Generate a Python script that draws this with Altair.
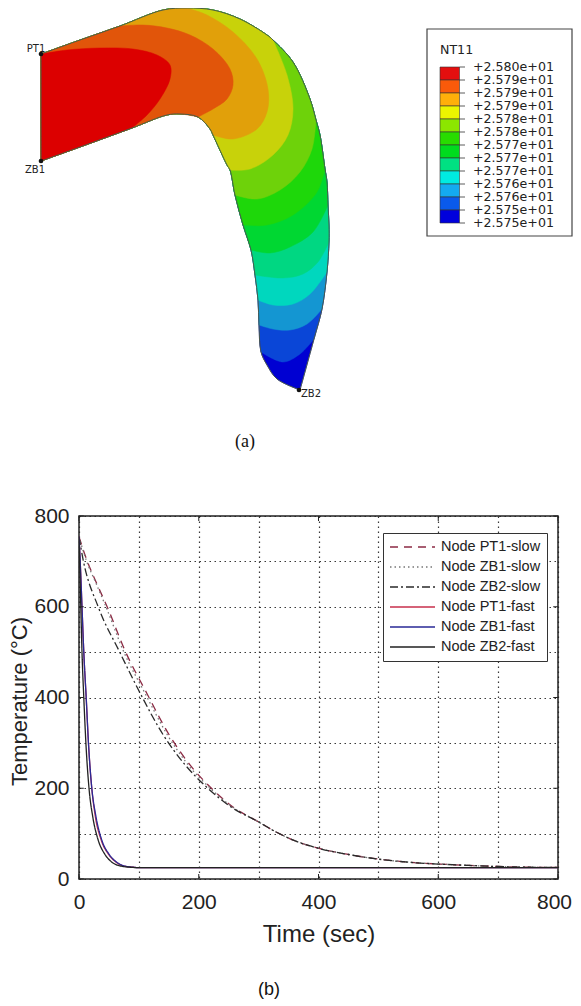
import altair as alt
import pandas as pd

# ---------- panel (a): contour plot, coordinates ----------
outer = [(41,52),(80,38),(120,24),(163,8),(187,6),(213,8),(240,17),(267,33),(273,38),(293,60),(310,97),(316,118),
         (320,133),(325,167),(327,180),(328,203),(329,223),(329,240),(327,270),(322,307),(314,337),(300,388)]
inner = [(41,159),(80,145),(132,126),(167,113),(180,112),(198,115),(210,127),(213,133),(227,163),(230,168),
         (235,193),(243,223),(251,248),(255,273),(258,298),(259,323),(261,350),(267,363),(277,377),(300,388)]
contours = [
    [(41,52),(67,48),(100,46),(133,47),(157,53),(170,63),(170,77),(160,97),(147,113),(132,126)],
    [(120,24),(143,23),(167,26),(190,33),(213,47),(230,67),(233,83),(227,97),(213,107),(198,115)],
    [(187,6),(207,13),(233,30),(257,57),(268,87),(267,110),(257,127),(233,137),(213,133)],
    [(273,38),(287,73),(293,107),(288,133),(273,153),(250,167),(230,168)],
    [(316,118),(312,147),(300,170),(280,188),(257,197),(235,193)],
    [(325,167),(317,190),(293,213),(267,223),(243,223)],
    [(328,203),(313,230),(290,245),(270,251),(251,248)],
    [(329,240),(318,260),(303,272),(283,276),(255,273)],
    [(327,270),(310,292),(293,302),(273,303),(258,298)],
    [(322,307),(307,322),(290,328),(273,327),(259,323)],
    [(314,337),(300,352),(283,360),(261,350)],
]
band_colors = ["#dc0000","#e1550a","#e1a00a","#c8d20a","#6ed20a","#1ed70a","#00d732","#00d782",
               "#00d7be","#1496d2","#0a46d7","#0000d2"]
legend_colors = ["#e40f0f","#fa5a0a","#ffaf0a","#ebf500","#8ce600","#28dc00","#00dc1e","#00e182",
                 "#00ebe1","#14aaf0","#0a5aeb","#0000dc"]
legend_labels = ["+2.580e+01","+2.579e+01","+2.579e+01","+2.579e+01","+2.578e+01","+2.578e+01","+2.577e+01",
                 "+2.577e+01","+2.577e+01","+2.576e+01","+2.576e+01","+2.575e+01","+2.575e+01"]
nodes = [("PT1",41,52,36,47),("ZB1",41,159,35,168),("ZB2",299,388,311,392)]

# ---------- panel (b): cooling curves ----------
t_pt1_slow = [0,13,30,47,78,113,150,185,222,260,297,330,369,399,450,499,550,600,650,700,750,800]
v_pt1_slow = [754,703,650,600,500,410,319,252,199,156,128,103,80,68,54,44,37,33,30,27.5,26,25.5]
t_zb1_slow = [0,12,29,45,75,110,147,182,220,259,297,330,369,399,450,499,550,600,650,700,750,800]
v_zb1_slow = [754,703,650,600,500,410,319,252,199,156,128,103,80,68,54,44,37,33,30,27.5,26,25.5]
t_zb2_slow = [0,7,32,68,102,140,177,216,257,297,330,369,399,450,499,550,600,650,700,750,800]
v_zb2_slow = [754,703,600,500,410,319,252,199,156,128,103,80,68,54,44,37,33,30,27.5,26,25.5]
t_pt1_fast = [0,2,5,8,12,16,21,27,37,49,62,74,90,100,800]
v_pt1_fast = [754,700,600,500,400,295,205,140,86,55,37,29,26,25,25]
t_zb1_fast = [0,2,5,8,12,16,21,28,38,50,63,75,90,100,800]
v_zb1_fast = [754,700,600,500,400,295,205,140,86,55,37,29,26,25,25]
t_zb2_fast = [0,1,3,5,8,11.5,17,23,32,43,55,68,85,100,800]
v_zb2_fast = [754,700,600,500,400,300,196,137,86,55,37,29,26,25,25]
series = ["Node PT1-slow","Node ZB1-slow","Node ZB2-slow","Node PT1-fast","Node ZB1-fast","Node ZB2-fast"]
series_colors = ["#8c2a44","#777777","#2a2a2a","#c8304c","#2a2a96","#222222"]
series_dash = [[8,6],[1.5,3],[8,3,2,3],[1,0],[1,0],[1,0]]
major_ticks = [0,200,400,600,800]
grid_ticks = [0,100,200,300,400,500,600,700,800]

X0, X1, Y0, Y1 = 79, 558, 8, 500
xs = alt.Scale(domain=[X0, X1], nice=False, zero=False)
ys = alt.Scale(domain=[Y1, Y0], nice=False, zero=False)
X = alt.X("x:Q", scale=xs, axis=None)
Y = alt.Y("y:Q", scale=ys, axis=None)


def poly(points, **mark):
    df = pd.DataFrame(points, columns=["x", "y"])
    df["i"] = range(len(df))
    return alt.Chart(df).mark_line(interpolate="catmull-rom", **mark).encode(x=X, y=Y, order="i:Q")


top = []
a, b = outer[0], inner[0]
whole = [a, a] + outer[1:-1] + [outer[-1], outer[-1]] + inner[::-1][1:-1] + [b, b, a, a]
top.append(poly(whole, fill=band_colors[-1], stroke=band_colors[-1], strokeWidth=0.5))
for k in range(len(contours) - 1, -1, -1):
    c = contours[k]
    o = outer[:outer.index(c[0]) + 1]
    n = inner[:inner.index(c[-1]) + 1]
    pts = [a, a] + o[1:] + [c[0]] + c[1:] + [c[-1]] + n[::-1][1:-1] + [b, b, a, a]
    top.append(poly(pts, fill=band_colors[k], stroke=band_colors[k], strokeWidth=0.5))
top.append(poly(whole, stroke="#4a5a4a", strokeWidth=1))

node_df = pd.DataFrame(nodes, columns=["name", "x", "y", "tx", "ty"])
top.append(alt.Chart(node_df).mark_point(filled=True, color="#111", size=22, opacity=1).encode(x=X, y=Y))
top.append(alt.Chart(node_df).mark_text(font="DejaVu Sans", fontSize=10, color="#222").encode(
    x=alt.X("tx:Q", scale=xs, axis=None), y=alt.Y("ty:Q", scale=ys, axis=None), text="name:N"))

# colour legend of panel (a)
box = pd.DataFrame([{"x": 427, "x2": 572, "y": 27, "y2": 234}])
top.append(alt.Chart(box).mark_rect(fill="white", stroke="#444", strokeWidth=1.2).encode(
    x=X, x2="x2:Q", y=Y, y2="y2:Q"))
bars = pd.DataFrame([{"x": 440, "x2": 459.5, "y": 65 + 13 * i, "y2": 78 + 13 * i, "c": legend_colors[i]}
                     for i in range(12)])
top.append(alt.Chart(bars).mark_rect(stroke="#333", strokeWidth=0.6).encode(
    x=X, x2="x2:Q", y=Y, y2="y2:Q", color=alt.Color("c:N", scale=None)))
lab = pd.DataFrame([{"x": 473, "x0": 459.5, "x1": 465, "y": 65 + 13 * i, "t": s} for i, s in enumerate(legend_labels)])
top.append(alt.Chart(lab).mark_rule(color="#333", strokeWidth=0.8).encode(
    x=alt.X("x0:Q", scale=xs, axis=None), x2="x1:Q", y=Y))
top.append(alt.Chart(lab).mark_text(align="left", font="DejaVu Sans", fontSize=12.6, color="#222").encode(
    x=X, y=Y, text="t:N"))
top.append(alt.Chart(pd.DataFrame([{"x": 440, "y": 48, "t": "NT11"}])).mark_text(
    align="left", font="DejaVu Sans", fontSize=12.6, color="#222").encode(x=X, y=Y, text="t:N"))
top.append(alt.Chart(pd.DataFrame([{"x": 245, "y": 440, "t": "(a)"}])).mark_text(
    font="Liberation Serif", fontSize=18, color="#111").encode(x=X, y=Y, text="t:N"))

panel_a = alt.layer(*top, view=alt.ViewBackground(stroke=None)).properties(width=X1 - X0, height=Y1 - Y0)

# ---------- panel (b) ----------
rows = []
for name, ts, vs in zip(series, [t_pt1_slow, t_zb1_slow, t_zb2_slow, t_pt1_fast, t_zb1_fast, t_zb2_fast],
                        [v_pt1_slow, v_zb1_slow, v_zb2_slow, v_pt1_fast, v_zb1_fast, v_zb2_fast]):
    rows += [{"s": name, "t": p, "v": q} for p, q in zip(ts, vs)]
curves = pd.DataFrame(rows)

FONT = "Liberation Sans"
tx = alt.Scale(domain=[0, 800], nice=False, zero=False)
ty = alt.Scale(domain=[0, 800], nice=False, zero=False)
label_expr = "datum.value % 200 === 0 ? datum.label : ''"
axis_common = dict(values=grid_ticks, grid=True, gridDash=[1.5, 3.5], gridColor="#222", gridWidth=1.2, gridOpacity=0.9,
                   domain=False, ticks=False, labelFont=FONT, labelFontSize=21, labelColor="#222",
                   titleFont=FONT, titleFontWeight="normal", titleColor="#222", labelExpr=label_expr,
                   labelOverlap=False, labelFlush=False)
x_axis = alt.Axis(title="Time (sec)", titleFontSize=24, titlePadding=10, labelPadding=12,
                  labelOffset={"condition": {"test": "datum.value === 800", "value": -4}, "value": 0}, **axis_common)
y_axis = alt.Axis(title="Temperature (°C)", titleFontSize=22, titlePadding=2, labelPadding=10, titleY=185, **axis_common)
lines = alt.Chart(curves).mark_line(strokeWidth=1.3, clip=True, interpolate="monotone").encode(
    x=alt.X("t:Q", scale=tx, axis=x_axis),
    y=alt.Y("v:Q", scale=ty, axis=y_axis),
    color=alt.Color("s:N", sort=series, scale=alt.Scale(domain=series, range=series_colors),
                    legend=alt.Legend(title=None, orient="none", legendX=304, legendY=523, fillColor="white",
                                      strokeColor="#333", symbolType="stroke", symbolSize=2025, clipHeight=16,
                                      symbolStrokeWidth=1.3, labelFont=FONT, labelFontSize=14.5, labelColor="#222",
                                      padding=6, rowPadding=4, labelOffset=5, zindex=1)),
    strokeDash=alt.StrokeDash("s:N", sort=series, scale=alt.Scale(domain=series, range=series_dash), legend=None),
    detail="s:N",
)

tk_x = pd.DataFrame([{"x": v, "a": e, "b": e + d} for v in major_ticks for e, d in [(0, 11), (800, -11)]])
tk_y = pd.DataFrame([{"y": v, "a": e, "b": e + d} for v in major_ticks for e, d in [(0, 8), (800, -8)]])
ticks_x = alt.Chart(tk_x).mark_rule(color="#222", strokeWidth=1).encode(
    x=alt.X("x:Q", scale=tx, axis=x_axis), y=alt.Y("a:Q", scale=ty, axis=y_axis), y2="b:Q")
ticks_y = alt.Chart(tk_y).mark_rule(color="#222", strokeWidth=1).encode(
    y=alt.Y("y:Q", scale=ty, axis=y_axis), x=alt.X("a:Q", scale=tx, axis=x_axis), x2="b:Q")
cap_b = alt.Chart(pd.DataFrame([{"t": "(b)"}])).mark_text(font="Liberation Sans", fontSize=18, color="#111").encode(
    x=alt.value(190), y=alt.value(474), text="t:N")

panel_b = alt.layer(lines, ticks_x, ticks_y, cap_b, view=alt.ViewBackground(stroke="#222", strokeWidth=1.5)).properties(
    width=479, height=363)

chart = alt.vconcat(panel_a, panel_b, spacing=2).properties(
    padding={"left": 0, "top": -3, "right": 0, "bottom": 0}).configure_view(strokeWidth=1.5)
chart.save("out.html", embed_options={"renderer": "svg", "actions": False})
